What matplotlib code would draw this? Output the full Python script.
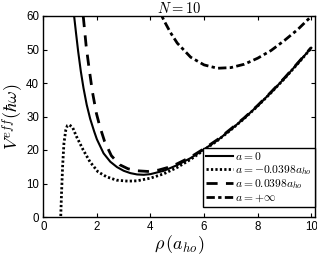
import matplotlib
matplotlib.use("Agg")
import matplotlib.pyplot as plt

plt.rcParams['mathtext.fontset'] = 'cm'
plt.rcParams['font.family'] = ['Liberation Sans', 'DejaVu Sans']

# a = 0
rho_0 = [1.15, 1.22, 1.3, 1.4, 1.5, 1.62, 1.75, 1.9, 2.0, 2.25, 2.5, 2.75, 3.0, 3.25, 3.5,
         3.75, 4.0, 4.5, 5.0, 5.5, 6.0, 6.5, 7.0, 7.5, 8.0, 8.5, 9.0, 9.5, 10.0]
v_0 = [60, 55, 49.5, 43.5, 38.5, 33.5, 29.3, 25.5, 23.2, 19.0, 16.5, 14.9, 13.8, 13.1, 12.7,
       12.6, 12.8, 13.8, 15.5, 17.6, 20.2, 22.9, 26.1, 29.5, 33.2, 37.2, 41.4, 45.9, 50.5]

# a = -0.0398 a_ho
rho_neg = [0.60, 0.65, 0.68, 0.72, 0.77, 0.84, 0.90, 0.97, 1.09, 1.24, 1.49, 1.74, 2.04, 2.36,
           2.73, 3.16, 3.5, 4.0, 4.5, 5.0, 5.5, 6.0, 6.5, 7.0, 7.5, 8.0, 8.5, 9.0, 9.5, 10.0]
v_neg = [-5, 0, 7, 15, 22, 26, 27.3, 27.5, 26.8, 24.0, 20.0, 16.5, 13.5, 12.0,
         11.0, 10.7, 10.8, 11.6, 12.9, 14.8, 17.2, 20.0, 22.8, 26.0, 29.4, 33.1, 37.1, 41.3, 45.8, 50.4]

# a = +0.0398 a_ho
rho_pos = [1.49, 1.6, 1.70, 1.83, 1.98, 2.11, 2.29, 2.54, 2.85, 3.16, 3.5, 3.9, 4.3, 4.7, 5.0,
           5.5, 6.0, 6.5, 7.0, 7.5, 8.0, 8.5, 9.0, 9.5, 10.0]
v_pos = [60, 51, 44.9, 37.5, 31, 27, 22.5, 18.3, 15.6, 14.4, 13.8, 13.6, 14.0, 14.9, 15.9,
         17.9, 20.4, 23.1, 26.3, 29.6, 33.3, 37.3, 41.5, 46.0, 50.6]

# a = +inf
rho_inf = [4.25, 4.5, 4.75, 5.0, 5.5, 6.0, 6.5, 7.0, 7.5, 8.0, 8.5, 9.0, 9.5, 10.0]
v_inf = [63, 58.7, 55.0, 51.9, 47.7, 45.4, 44.4, 44.6, 45.6, 47.4, 49.7, 52.7, 56.0, 59.9]

labels = [r'$a=0$', r'$a=-0.0398a_{ho}$', r'$a=0.0398a_{ho}$', r'$a=+\infty$']

fig = plt.figure(figsize=(3.17, 2.57), dpi=100)
ax = fig.add_axes([43.3 / 317, 40 / 257, (315 - 43.3) / 317, 201 / 257])

ax.plot(rho_0, v_0, color='black', lw=1.5, ls='-', label=labels[0])
ax.plot(rho_neg, v_neg, color='black', lw=2, ls=(0, (0.8, 0.8)), label=labels[1])
ax.plot(rho_pos, v_pos, color='black', lw=2, ls=(0, (4, 3)), label=labels[2])
ax.plot(rho_inf, v_inf, color='black', lw=2, ls=(0, (3, 1.2, 1.2, 1.2)), label=labels[3])

ax.set_xlim(0, 10.14)
ax.set_ylim(0, 60)
ax.set_xticks([0, 2, 4, 6, 8, 10])
ax.set_yticks([0, 10, 20, 30, 40, 50, 60])
ax.tick_params(direction='in', top=True, right=True, labelsize=8.3, length=3, pad=3)
for s in ax.spines.values():
    s.set_linewidth(1)

ax.set_title(r'$N=10$', fontsize=10.5, pad=2)
ax.set_xlabel(r'$\rho\,(a_{ho})$', fontsize=13, labelpad=0)
ax.set_ylabel(r'$V^{eff}(\hbar\omega)$', fontsize=13, labelpad=0)

leg = ax.legend(loc='lower right', bbox_to_anchor=(1.0, 0.05), borderaxespad=0,
                fontsize=8.3, handlelength=2.4, handletextpad=0.2, labelspacing=0.04,
                borderpad=0.25, fancybox=False, framealpha=1, edgecolor='black')
leg.get_frame().set_linewidth(1)

fig.savefig('out.png', dpi=100)
